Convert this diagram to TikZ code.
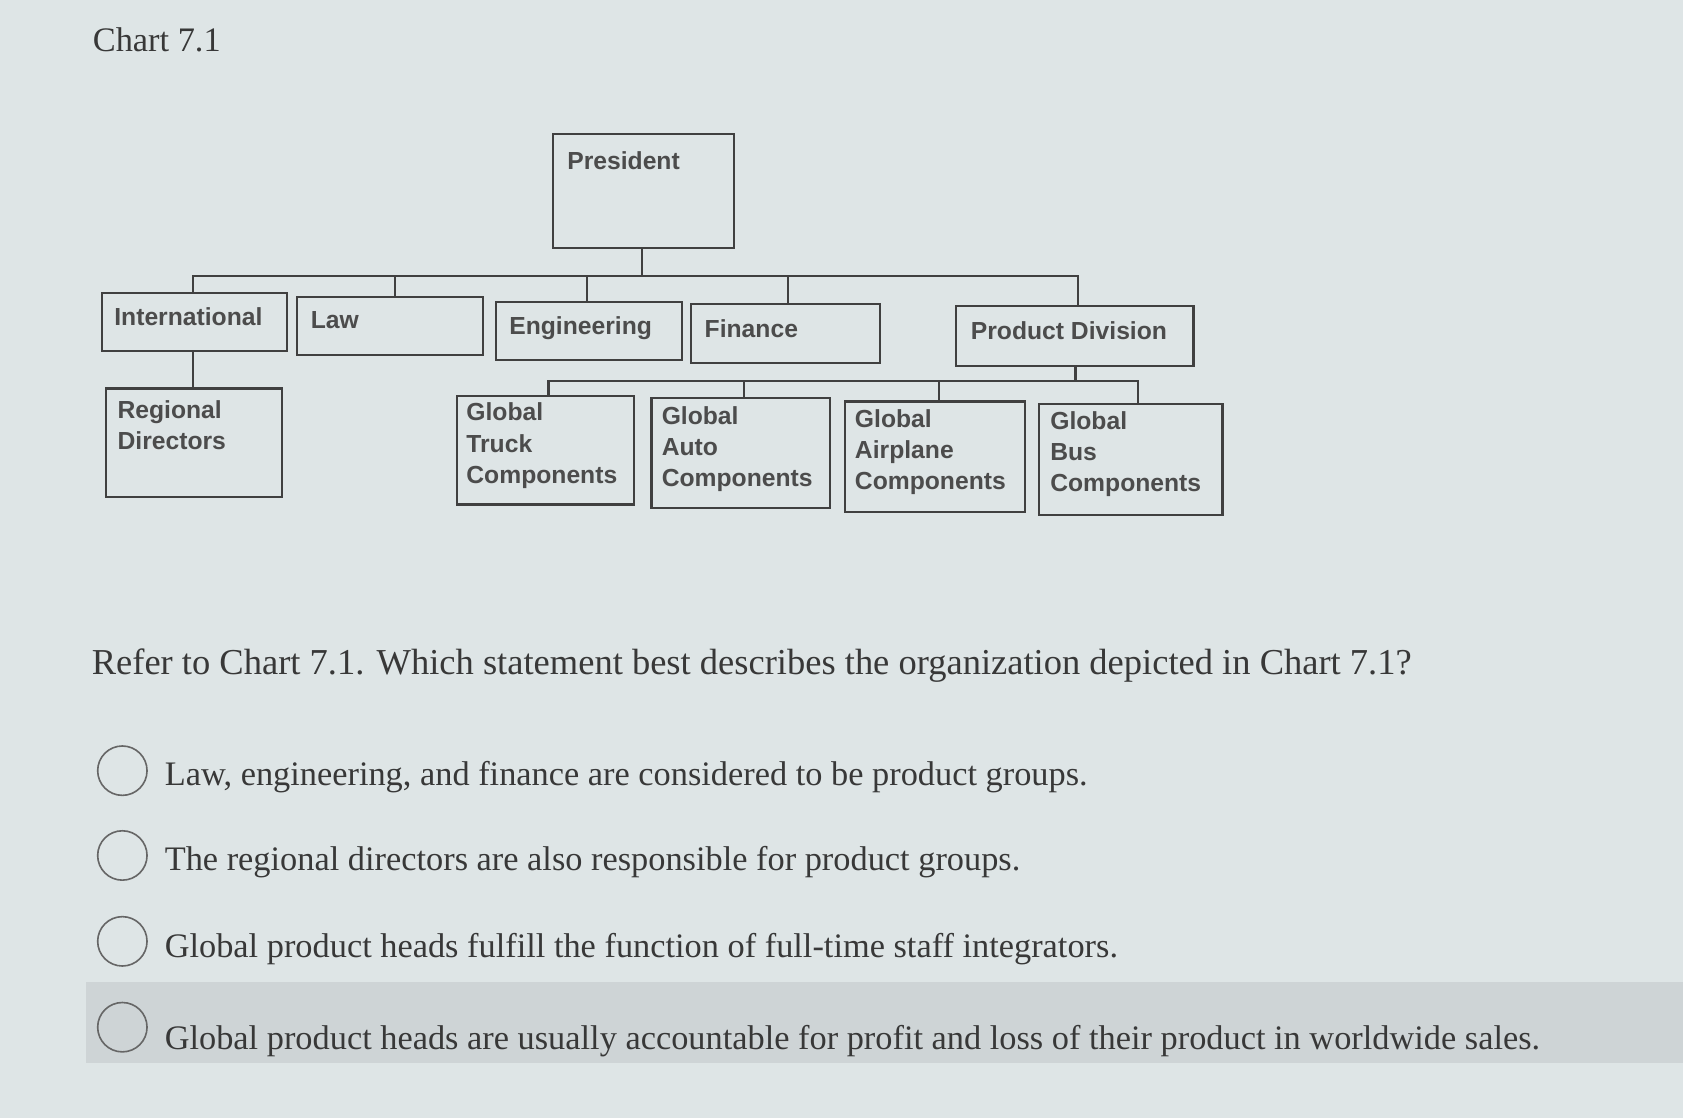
\documentclass[tikz,border=0pt]{standalone}
\usepackage{fontspec}
\setmainfont{Liberation Serif}
\newfontfamily\boxfont{Liberation Sans}
\begin{document}
\begin{tikzpicture}[x=1pt,y=-1pt,
  bx/.style={draw=black!75,line width=2pt,inner sep=0pt},
  lbl/.style={anchor=north west,font=\boxfont\bfseries\fontsize{23}{29}\selectfont,text=black!70,align=left},
  ln/.style={draw=black!75,line width=2pt},
  qt/.style={anchor=west,font=\fontsize{32}{36}\selectfont,text=black!78},
  rd/.style={draw=black!60,line width=1.5pt,circle,minimum size=46pt,inner sep=0pt}]
\fill[fill={rgb,255:red,222;green,229;blue,230}] (0,0) rectangle (1568,1042);
\fill[fill={rgb,255:red,206;green,212;blue,214}] (80,915) rectangle (1568,990);
\useasboundingbox (0,0) rectangle (1568,1042);
\node[anchor=west,font=\fontsize{32}{36}\selectfont,text=black!78] (title) at (83,37) {Chart 7.1};
% boxes
\draw[bx] (515,125) rectangle (684,231); \node[lbl] (pres) at (525,138) {President};
\draw[bx] (95,273) rectangle (267,327); \node[lbl] (intl) at (103,283) {International};
\draw[bx] (277,277) rectangle (450,331); \node[lbl] (law) at (286,287) {Law};
\draw[bx] (462,281) rectangle (635,335); \node[lbl] (eng) at (471,291) {Engineering};
\draw[bx] (644,283) rectangle (820,338); \node[lbl] (fin) at (653,294) {Finance};
\draw[bx] (891,285) rectangle (1112,341); \node[lbl] (pd) at (901,296) {Product Division};
\draw[bx] (99,362) rectangle (263,463); \node[lbl] (reg) at (106,370) {Regional\\Directors};
\draw[bx] (426,369) rectangle (591,470); \node[lbl] (truck) at (431,372) {Global\\Truck\\Components};
\draw[bx] (607,371) rectangle (773,473); \node[lbl] (auto) at (613,375) {Global\\Auto\\Components};
\draw[bx] (787,374) rectangle (955,477); \node[lbl] (air) at (793,378) {Global\\Airplane\\Components};
\draw[bx] (968,376) rectangle (1139,480); \node[lbl] (bus) at (975,380) {Global\\Bus\\Components};
% connectors
\coordinate (b1) at (598,257);
\draw[ln] (598,231) -- (b1);
\draw[ln] (180,273) -- (180,257) -- (1004,257) -- (1004,285);
\draw[ln] (368,257) -- (368,277);
\draw[ln] (547,257) -- (547,281);
\draw[ln] (734,257) -- (734,283);
\draw[ln] (180,327) -- (180,362);
\draw[ln] (1002,341) -- (1002,355);
\draw[ln] (511,369) -- (511,355) -- (1060,355) -- (1060,376);
\draw[ln] (693,355) -- (693,371);
\draw[ln] (875,355) -- (875,374);
% question
\node[qt,font=\fontsize{34}{38}\selectfont] (q) at (82,620) {Refer to Chart 7.1. Which statement best describes the organization depicted in Chart 7.1?};
\node[rd] (r1) at (114,718) {}; \node[qt] (o1) at (150,724) {Law, engineering, and finance are considered to be product groups.};
\node[rd] (r2) at (114,797) {}; \node[qt] (o2) at (150,803) {The regional directors are also responsible for product groups.};
\node[rd] (r3) at (114,877) {}; \node[qt] (o3) at (150,884) {Global product heads fulfill the function of full-time staff integrators.};
\node[rd] (r4) at (114,957) {}; \node[qt] (o4) at (150,970) {Global product heads are usually accountable for profit and loss of their product in worldwide sales.};
\end{tikzpicture}
\end{document}
